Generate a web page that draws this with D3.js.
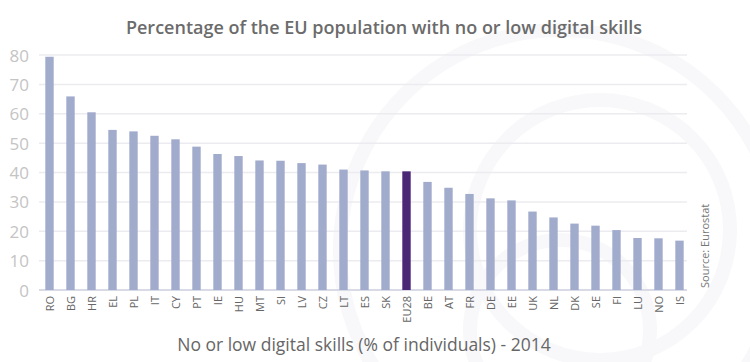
<!DOCTYPE html>
<meta charset="utf-8">
<script src="https://d3js.org/d3.v7.min.js"></script>
<style>
  body { margin: 0; background: #fff; }
  text { font-family: "Open Sans", "DejaVu Sans", sans-serif; }
</style>
<div id="chart"></div>
<script>

// data
var countries = ["RO","BG","HR","EL","PL","IT","CY","PT","IE","HU","MT","SI","LV","CZ","LT","ES","SK","EU28","BE","AT","FR","DE","EE","UK","NL","DK","SE","FI","LU","NO","IS"];
var values = [79.4,65.9,60.5,54.5,54.0,52.5,51.3,48.8,46.3,45.6,44.1,44.0,43.2,42.7,41.0,40.7,40.4,40.4,36.8,34.8,32.7,31.2,30.5,26.7,24.7,22.6,21.9,20.4,17.7,17.6,16.8];
var yTicks = [0,10,20,30,40,50,60,70,80];

var data = countries.map(function(c, i) { return {country: c, value: values[i]}; });

var width = 750, height = 362;
var margin = {top: 55, right: 60, bottom: 72, left: 39};

var svg = d3.select("#chart")
  .append("svg")
    .attr("width", width)
    .attr("height", height);

// faint watermark swirls in the background
var wm = svg.append("g").attr("fill", "none").attr("stroke", "#f8f8fa").attr("stroke-width", 14);
wm.append("circle").attr("cx", 560).attr("cy", 250).attr("r", 220);
wm.append("circle").attr("cx", 600).attr("cy", 230).attr("r", 130);
wm.append("circle").attr("cx", 560).attr("cy", 330).attr("r", 90);

var x = d3.scaleBand()
    .domain(countries)
    .range([margin.left, width - margin.right])
    .paddingInner(0.6)
    .paddingOuter(0.3);

var y = d3.scaleLinear()
    .domain([0, 80])
    .range([height - margin.bottom, margin.top]);

// gridlines
svg.append("g")
  .selectAll("line")
  .data(yTicks)
  .enter()
  .append("line")
    .attr("x1", margin.left)
    .attr("x2", 687)
    .attr("y1", function(d) { return y(d); })
    .attr("y2", function(d) { return y(d); })
    .style("stroke", function(d) { return d === 0 ? "#d8dbe6" : "#ececf0"; })
    .style("stroke-width", function(d) { return d === 0 ? 2 : 1.5; });

// y tick labels
svg.append("g")
  .selectAll("text")
  .data(yTicks)
  .enter()
  .append("text")
    .attr("x", 29)
    .attr("y", function(d) { return y(d); })
    .attr("text-anchor", "end")
    .attr("dominant-baseline", "central")
    .style("font-size", "17px")
    .style("fill", "#c4c4c4")
    .text(function(d) { return d; });

// bars
svg.append("g")
  .selectAll("rect")
  .data(data)
  .enter()
  .append("rect")
    .attr("x", function(d) { return x(d.country); })
    .attr("y", function(d) { return y(d.value); })
    .attr("width", x.bandwidth())
    .attr("height", function(d) { return y(0) - y(d.value); })
    .style("fill", function(d) { return d.country === "EU28" ? "#4b2876" : "#a1abcc"; });

// x labels, rotated
svg.append("g")
  .selectAll("text")
  .data(countries)
  .enter()
  .append("text")
    .attr("transform", function(d) {
      return "translate(" + (x(d) + x.bandwidth() / 2) + "," + (y(0) + 6) + ") rotate(-90)";
    })
    .attr("text-anchor", "end")
    .attr("dominant-baseline", "central")
    .style("font-size", "11px")
    .style("fill", "#666")
    .text(function(d) { return d; });

// title
svg.append("text")
  .attr("x", 384)
  .attr("y", 34)
  .attr("text-anchor", "middle")
  .style("font-size", "18px")
  .style("font-weight", "600")
  .style("fill", "#6b6b6b")
  .text("Percentage of the EU population with no or low digital skills");

// axis title
svg.append("text")
  .attr("x", 364)
  .attr("y", 351)
  .attr("text-anchor", "middle")
  .style("font-size", "17.5px")
  .style("fill", "#666")
  .text("No or low digital skills (% of individuals) - 2014");

// source
svg.append("text")
  .attr("transform", "translate(709,288) rotate(-90)")
  .attr("text-anchor", "start")
  .style("font-size", "11px")
  .style("fill", "#777")
  .text("Source: Eurostat");

</script>
